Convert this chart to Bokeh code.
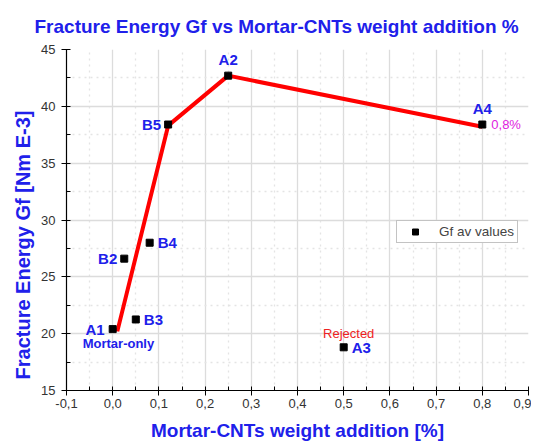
from bokeh.plotting import figure
from bokeh.models import Label, ColumnDataSource, FixedTicker, Range1d, Legend, LegendItem, Title
from bokeh.core.properties import value
from bokeh.embed import file_html
from bokeh.resources import INLINE

# ---- data ----
names = ["A1", "B2", "B3", "B4", "B5", "A2", "A3", "A4"]
cnt_pct = [0.0, 0.025, 0.05, 0.08, 0.12, 0.25, 0.5, 0.8]
gf_av = [20.4, 26.6, 21.25, 28.0, 38.4, 42.7, 18.8, 38.4]

trend_x = [0.01, 0.12, 0.25, 0.8]
trend_y = [20.2, 38.3, 42.7, 38.2]

x_ticks = [-0.1, 0.0, 0.1, 0.2, 0.3, 0.4, 0.5, 0.6, 0.7, 0.8, 0.9]
x_tick_labels = ["-0,1", "0,0", "0,1", "0,2", "0,3", "0,4", "0,5", "0,6", "0,7", "0,8", "0,9"]
y_ticks = [15, 20, 25, 30, 35, 40, 45]

title_text = "Fracture Energy Gf vs Mortar-CNTs weight addition %"
x_label = "Mortar-CNTs weight addition [%]"
y_label = "Fracture Energy Gf [Nm E-3]"

FONT = "Liberation Sans"
BLUE = "#2020ea"
NBSP = "\u00a0"

W, H = 531, 444
p = figure(width=W, height=H, output_backend="svg", toolbar_location=None,
           x_range=Range1d(-0.1, 0.9), y_range=Range1d(15, 45),
           min_border_left=66, min_border_right=3, min_border_top=49, min_border_bottom=54)
p.outline_line_color = None
p.background_fill_color = "white"
p.border_fill_color = "white"

t = Title(text=title_text, align="left", offset=-32, standoff=26,
          text_font=FONT, text_font_size="19px", text_font_style="bold", text_color=BLUE)
p.title = t

for ax in (p.xaxis[0], p.yaxis[0]):
    ax.axis_line_color = "black"
    ax.axis_line_width = 1.2
    ax.major_tick_line_color = "black"
    ax.minor_tick_line_color = "black"
    ax.major_tick_in = 4
    ax.major_tick_out = 5
    ax.minor_tick_in = 4
    ax.minor_tick_out = 0
    ax.major_label_text_font = FONT
    ax.major_label_text_font_size = "13px"
    ax.major_label_text_color = "#333333"
    ax.axis_label_text_font = FONT
    ax.axis_label_text_font_style = "bold"
    ax.axis_label_text_color = BLUE

p.xaxis.ticker = FixedTicker(ticks=x_ticks, minor_ticks=[v + 0.05 for v in x_ticks[:-1]])
p.xaxis.major_label_overrides = {v: l for v, l in zip(x_ticks, x_tick_labels)}
p.yaxis.ticker = FixedTicker(ticks=y_ticks, minor_ticks=[v + 2.5 for v in y_ticks[:-1]])
p.xaxis.major_label_standoff = 3
p.yaxis.major_label_standoff = 6

p.xaxis.axis_label = x_label
p.xaxis.axis_label_text_font_size = "19px"
p.xaxis.axis_label_standoff = 9
p.yaxis.axis_label = y_label + NBSP * 9
p.yaxis.axis_label_text_font_size = "20px"
p.yaxis.axis_label_standoff = 4

for g in (p.xgrid[0], p.ygrid[0]):
    g.grid_line_color = "#dcdcdc"
    g.grid_line_width = 1.3
    g.minor_grid_line_color = "#e4e4e4"
    g.minor_grid_line_dash = "dotted"
    g.minor_grid_line_width = 1.3

p.line(trend_x, trend_y, line_color="#ff0000", line_width=4)
pts = p.scatter(cnt_pct, gf_av, marker="square", size=7, fill_color="black", line_color="black")

# point labels (offsets are styling)
off = {
    "A1": (-8, 0, "right", "middle"),
    "B2": (-7, 0, "right", "middle"),
    "B3": (8, 0, "left", "middle"),
    "B4": (8, 0, "left", "middle"),
    "B5": (-7, 0, "right", "middle"),
    "A2": (0, -8, "center", "bottom"),
    "A3": (8, 0, "left", "middle"),
    "A4": (0, -8, "center", "bottom"),
}
src = ColumnDataSource(dict(
    x=cnt_pct, y=gf_av, t=names,
    xo=[off[n][0] for n in names], yo=[off[n][1] for n in names],
    al=[off[n][2] for n in names], bl=[off[n][3] for n in names]))
p.text("x", "y", text="t", x_offset="xo", y_offset="yo", text_align="al", text_baseline="bl",
       source=src, text_font=value(FONT), text_font_style="bold", text_font_size="15px",
       text_color=BLUE)

i1 = names.index("A1")
i3 = names.index("A3")
i4 = names.index("A4")
p.add_layout(Label(x=cnt_pct[i1], y=gf_av[i1], x_offset=-30, y_offset=-14, text="Mortar-only",
                   text_font=FONT, text_font_style="bold", text_font_size="13px", text_color=BLUE,
                   text_baseline="middle", text_align="left"))
p.add_layout(Label(x=cnt_pct[i3], y=gf_av[i3], x_offset=5, y_offset=14, text="Rejected",
                   text_font=FONT, text_font_size="13px", text_color="#ee2222",
                   text_baseline="middle", text_align="center"))
p.add_layout(Label(x=cnt_pct[i4], y=gf_av[i4], x_offset=9, y_offset=0, text="0,8%",
                   text_font=FONT, text_font_size="13px", text_color="#e020e0",
                   text_baseline="middle", text_align="left"))

# legend
leg = Legend(items=[LegendItem(label="Gf av values", renderers=[pts])], location=(330, 147))
leg.label_text_font = FONT
leg.label_text_font_size = "13.5px"
leg.border_line_color = "#888888"
leg.border_line_width = 1
leg.padding = 3
leg.spacing = 0
leg.glyph_width = 30
leg.glyph_height = 15
leg.label_standoff = 9
leg.label_height = 15
leg.margin = 0
leg.background_fill_alpha = 1
p.add_layout(leg)

open("out.html", "w").write(file_html(p, INLINE))
